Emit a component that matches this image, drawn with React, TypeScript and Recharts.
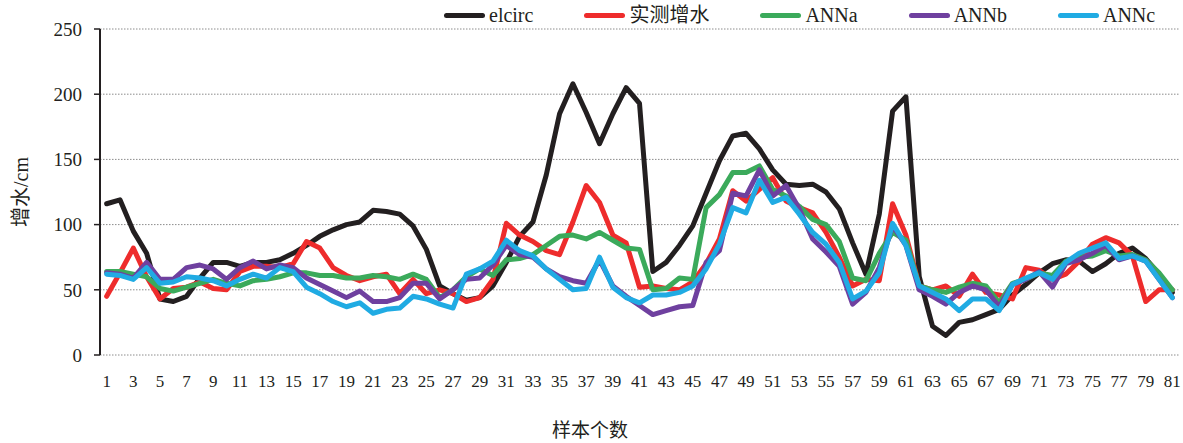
import React from 'react';
import { LineChart, Line, XAxis, YAxis, CartesianGrid } from 'recharts';

// sample index (category) and axis ticks
const sampleNo = [
  1, 2, 3, 4, 5, 6, 7, 8, 9, 10, 11, 12, 13, 14, 15, 16, 17, 18, 19, 20,
  21, 22, 23, 24, 25, 26, 27, 28, 29, 30, 31, 32, 33, 34, 35, 36, 37, 38, 39, 40,
  41, 42, 43, 44, 45, 46, 47, 48, 49, 50, 51, 52, 53, 54, 55, 56, 57, 58, 59, 60,
  61, 62, 63, 64, 65, 66, 67, 68, 69, 70, 71, 72, 73, 74, 75, 76, 77, 78, 79, 80, 81,
];
const xLabelTicks = [
  1, 3, 5, 7, 9, 11, 13, 15, 17, 19, 21, 23, 25, 27, 29, 31, 33, 35, 37, 39, 41,
  43, 45, 47, 49, 51, 53, 55, 57, 59, 61, 63, 65, 67, 69, 71, 73, 75, 77, 79, 81,
];
const yTicks = [0, 50, 100, 150, 200, 250];

// surge height (cm) per sample
const elcirc = [
  116, 119, 95, 78, 43, 41, 45, 59, 71, 71,
  68, 71, 71, 73, 78, 84, 91, 96, 100, 102,
  111, 110, 108, 99, 81, 53, 47, 42, 44, 53,
  71, 91, 102, 138, 185, 208, 186, 162, 185, 205,
  193, 64, 71, 84, 99, 124, 149, 168, 170, 158,
  142, 131, 130, 131, 125, 112, 86, 62, 108, 187,
  198, 60, 22, 15, 25, 27, 31, 35, 46, 54,
  63, 70, 73, 72, 64, 70, 78, 82, 74, 62,
  48,
];
const measured = [
  45, 63, 82, 60, 43, 51, 52, 56, 51, 50,
  64, 68, 68, 67, 70, 87, 82, 67, 61, 57,
  60, 62, 47, 58, 47, 50, 47, 41, 44, 58,
  101, 92, 87, 80, 77, 102, 130, 117, 92, 86,
  52, 53, 51, 50, 56, 70, 89, 126, 118, 127,
  136, 118, 113, 109, 94, 75, 53, 58, 57, 116,
  92, 53, 50, 53, 45, 62, 48, 46, 43, 67,
  65, 58, 62, 72, 85, 90, 86, 76, 41, 50,
  50,
];
const annA = [
  64, 64, 62, 60, 51, 49, 52, 55, 58, 55,
  53, 57, 58, 60, 63, 63, 61, 61, 59, 59,
  61, 60, 58, 62, 58, 44, 50, 60, 66, 61,
  73, 74, 77, 84, 91, 92, 89, 94, 88, 82,
  81, 50, 51, 59, 58, 113, 123, 140, 140, 145,
  127, 122, 114, 104, 100, 87, 59, 57, 78, 94,
  88, 53, 50, 48, 52, 55, 53, 40, 55, 58,
  63, 61, 72, 75, 76, 80, 76, 77, 73, 63,
  50,
];
const annB = [
  63, 62, 59, 71, 58, 58, 67, 69, 66, 58,
  67, 72, 66, 69, 67, 59, 54, 49, 44, 49,
  41, 41, 44, 55, 55, 43, 50, 58, 59, 69,
  84, 77, 75, 66, 60, 57, 55, 73, 53, 45,
  38, 31, 34, 37, 38, 71, 80, 124, 122, 142,
  122, 130, 112, 89, 79, 68, 39, 48, 67, 99,
  84, 50, 45, 39, 48, 53, 50, 37, 54, 58,
  64, 52, 70, 73, 78, 84, 73, 76, 72, 58,
  44,
];
const annC = [
  62, 61, 58, 67, 55, 56, 60, 59, 57, 53,
  58, 62, 59, 67, 64, 52, 47, 41, 37, 40,
  32, 35, 36, 45, 43, 39, 36, 62, 66, 72,
  88, 80, 76, 66, 58, 50, 51, 75, 52, 44,
  40, 46, 46, 48, 53, 66, 85, 113, 109, 134,
  117, 121, 108, 94, 85, 71, 43, 49, 63, 101,
  84, 53, 48, 43, 34, 43, 43, 34, 54, 59,
  63, 58, 71, 78, 82, 86, 74, 76, 72, 58,
  44,
];

const series = [
  { key: 'elcirc', name: 'elcirc', color: '#231F20' },
  { key: 'measured', name: '实测增水', color: '#EE2C2C' },
  { key: 'annA', name: 'ANNa', color: '#3BAA5B' },
  { key: 'annB', name: 'ANNb', color: '#6F409F' },
  { key: 'annC', name: 'ANNc', color: '#20ABE3' },
];

const rows = sampleNo.map((n, i) => ({
  n,
  elcirc: elcirc[i],
  measured: measured[i],
  annA: annA[i],
  annB: annB[i],
  annC: annC[i],
}));

// tick marks sit on the category boundaries
const bandEdges = [...sampleNo.map((n) => n - 0.5), sampleNo[sampleNo.length - 1] + 0.5];
const xDomain: [number, number] = [bandEdges[0], bandEdges[bandEdges.length - 1]];

const SERIF = '"Liberation Serif", "Times New Roman", "Noto Sans CJK SC", serif';
const INK = '#231F20';

const LegendRow = () => (
  <div
    style={{
      position: 'absolute',
      left: 444,
      top: 2,
      display: 'flex',
      alignItems: 'center',
      gap: 51,
      fontFamily: SERIF,
      fontSize: 20,
      color: INK,
      whiteSpace: 'nowrap',
      lineHeight: '26px',
    }}
  >
    {series.map((s) => (
      <div key={s.key} style={{ display: 'flex', alignItems: 'center' }}>
        <span
          style={{
            display: 'inline-block',
            width: 41,
            height: 5,
            borderRadius: 3,
            background: s.color,
            marginRight: 4,
          }}
        />
        <span>{s.name}</span>
      </div>
    ))}
  </div>
);

export default function App() {
  return (
    <div style={{ position: 'absolute', left: 0, top: 0, width: 1183, height: 443, background: '#fff' }}>
      <LineChart
        width={1183}
        height={443}
        data={rows}
        margin={{ top: 29, right: 4, bottom: 0, left: 0 }}
      >
        <CartesianGrid
          horizontal
          vertical={false}
          stroke="#8C8C8C"
          strokeDasharray="1.5 1.5"
        />
        <XAxis
          xAxisId="marks"
          dataKey="n"
          type="number"
          domain={xDomain}
          ticks={bandEdges}
          interval={0}
          height={0}
          tick={false}
          tickSize={5}
          axisLine={{ stroke: INK, strokeWidth: 2 }}
          tickLine={{ stroke: INK, strokeWidth: 1.5 }}
        />
        <XAxis
          xAxisId="lab"
          dataKey="n"
          type="number"
          domain={xDomain}
          ticks={xLabelTicks}
          interval={0}
          height={88}
          axisLine={false}
          tickLine={false}
          tickSize={0}
          tickMargin={20}
          tick={{ fill: INK, fontSize: 17, fontFamily: SERIF }}
        />
        <YAxis
          type="number"
          domain={[0, 250]}
          ticks={yTicks}
          interval={0}
          width={100}
          tickSize={6}
          tickMargin={12}
          axisLine={{ stroke: INK, strokeWidth: 2 }}
          tickLine={{ stroke: INK, strokeWidth: 1.5 }}
          tick={{ fill: INK, fontSize: 19, fontFamily: SERIF }}
        />
        {series.map((s) => (
          <Line
            key={s.key}
            xAxisId="lab"
            dataKey={s.key}
            name={s.name}
            stroke={s.color}
            strokeWidth={5}
            strokeLinejoin="round"
            strokeLinecap="round"
            dot={false}
            activeDot={false}
            isAnimationActive={false}
          />
        ))}
      </LineChart>
      <LegendRow />
      <div
        style={{
          position: 'absolute',
          left: 19,
          top: 192,
          transform: 'translate(-50%, -50%) rotate(-90deg)',
          fontFamily: SERIF,
          fontSize: 20,
          color: INK,
          whiteSpace: 'nowrap',
        }}
      >
        增水/cm
      </div>
      <div
        style={{
          position: 'absolute',
          left: 590,
          top: 428,
          transform: 'translate(-50%, -50%)',
          fontFamily: SERIF,
          fontSize: 19,
          color: INK,
          whiteSpace: 'nowrap',
        }}
      >
        样本个数
      </div>
    </div>
  );
}
